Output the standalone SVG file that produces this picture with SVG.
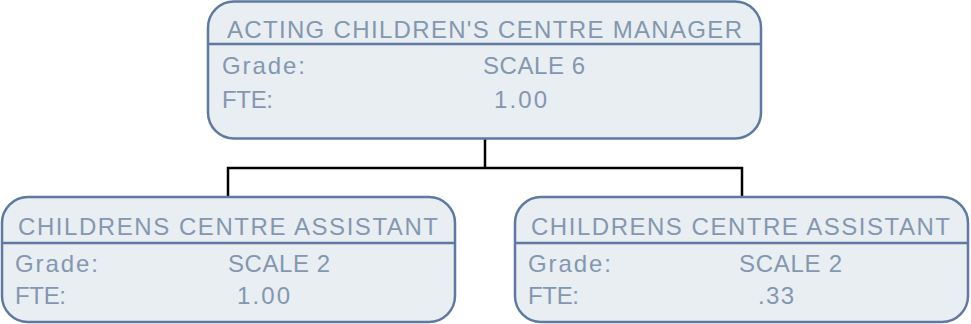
<svg xmlns="http://www.w3.org/2000/svg" width="971" height="324" viewBox="0 0 971 324">
<style>
.box{fill:#e9eef2;stroke:#5f7aa0;stroke-width:2.5}
.div{stroke:#5f7aa0;stroke-width:2.5}
.t{font-family:"Liberation Sans",Arial,sans-serif;font-size:24px;fill:#8497b0}
.conn{fill:none;stroke:#000;stroke-width:2.5}
</style>
<rect width="971" height="324" fill="#fff"/>
<g id="connectors">
<path class="conn" d="M485 139V168M228 197V168H742V197"/>
</g>
<g id="manager">
<rect class="box" x="208" y="1.5" width="553" height="137" rx="26"/>
<line class="div" x1="208" y1="44" x2="761" y2="44"/>
<text class="t" x="227" y="38" textLength="515" lengthAdjust="spacing">ACTING CHILDREN'S CENTRE MANAGER</text>
<text class="t" x="222" y="74" textLength="83" lengthAdjust="spacing">Grade:</text>
<text class="t" x="483" y="74" textLength="102" lengthAdjust="spacing">SCALE 6</text>
<text class="t" x="222" y="108" textLength="51" lengthAdjust="spacing">FTE:</text>
<text class="t" x="494" y="108" textLength="53" lengthAdjust="spacing">1.00</text>
</g>
<g id="assistant1">
<rect class="box" x="2" y="197" width="453" height="125" rx="26"/>
<line class="div" x1="2" y1="243" x2="455" y2="243"/>
<text class="t" x="18" y="235" textLength="420" lengthAdjust="spacing">CHILDRENS CENTRE ASSISTANT</text>
<text class="t" x="15" y="272" textLength="83" lengthAdjust="spacing">Grade:</text>
<text class="t" x="228" y="272" textLength="102" lengthAdjust="spacing">SCALE 2</text>
<text class="t" x="15" y="304" textLength="51" lengthAdjust="spacing">FTE:</text>
<text class="t" x="237" y="304" textLength="53" lengthAdjust="spacing">1.00</text>
</g>
<g id="assistant2">
<rect class="box" x="515" y="197" width="453" height="125" rx="26"/>
<line class="div" x1="515" y1="243" x2="968" y2="243"/>
<text class="t" x="531" y="235" textLength="419" lengthAdjust="spacing">CHILDRENS CENTRE ASSISTANT</text>
<text class="t" x="528" y="272" textLength="83" lengthAdjust="spacing">Grade:</text>
<text class="t" x="739" y="272" textLength="103" lengthAdjust="spacing">SCALE 2</text>
<text class="t" x="528" y="304" textLength="51" lengthAdjust="spacing">FTE:</text>
<text class="t" x="758" y="304" textLength="36" lengthAdjust="spacing">.33</text>
</g>
</svg>
